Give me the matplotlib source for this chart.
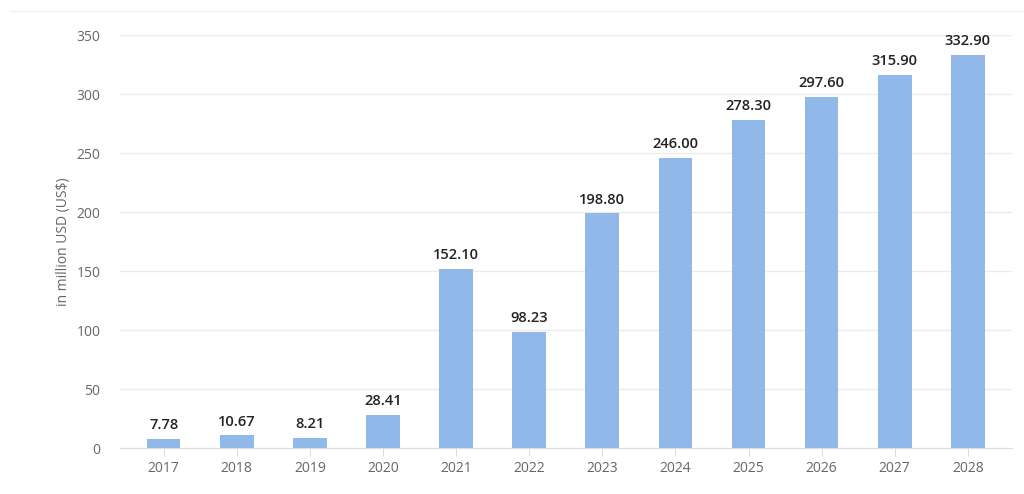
import numpy as np
import matplotlib
matplotlib.use('Agg')
import matplotlib.pyplot as plt
from matplotlib.lines import Line2D

years = ["2017", "2018", "2019", "2020", "2021", "2022",
         "2023", "2024", "2025", "2026", "2027", "2028"]
revenue = [7.78, 10.67, 8.21, 28.41, 152.10, 98.23,
           198.80, 246.00, 278.30, 297.60, 315.90, 332.90]
yticks = [0, 50, 100, 150, 200, 250, 300, 350]

plt.rcParams['font.family'] = ['Open Sans', 'DejaVu Sans']

fig = plt.figure(figsize=(10.24, 4.94), dpi=100)
ax = fig.add_axes([0.117, 0.093, 0.871, 0.836])

x = np.arange(len(years))
ax.bar(x, revenue, width=0.46, color='#90b8e8', zorder=2)

for xi, v in zip(x, revenue):
    ax.annotate("{:.2f}".format(v), (xi, v), xytext=(0, 5), textcoords='offset points',
                ha='center', va='bottom', fontsize=10.5, fontweight='semibold', color='#222222')

ax.set_xlim(-0.6, len(years) - 0.4)
ax.set_ylim(0, 350)
ax.set_yticks(yticks)
ax.set_xticks(x)
ax.set_xticklabels(years)
ax.grid(axis='y', color='#ebebeb', linewidth=1, zorder=0)

for s in ['top', 'right', 'left']:
    ax.spines[s].set_visible(False)
ax.spines['bottom'].set_color('#d8dde4')
ax.tick_params(axis='y', length=0, pad=14, labelsize=10, labelcolor='#666666')
ax.tick_params(axis='x', length=6, color='#d8dde4', pad=3, labelsize=10, labelcolor='#666666')
ax.set_ylabel("in million USD (US$)", fontsize=10, color='#666666', labelpad=4)

fig.add_artist(Line2D([0.01, 1.0], [0.978, 0.978], transform=fig.transFigure,
                      color='#eef0f3', linewidth=1))

fig.savefig("out.png", dpi=100)
